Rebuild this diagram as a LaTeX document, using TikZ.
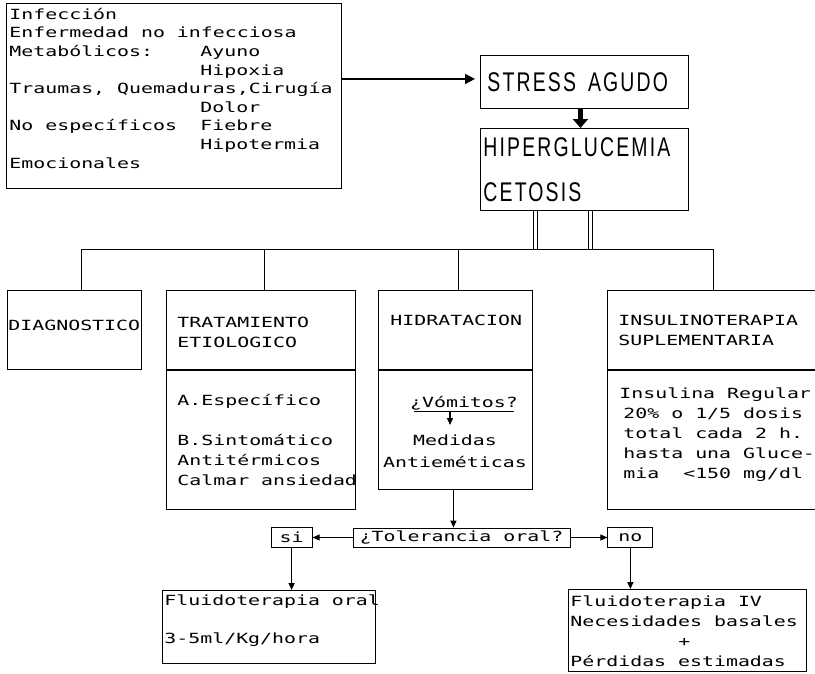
\documentclass[tikz,border=0pt]{standalone}
\usepackage{fontspec}
\setmainfont{Liberation Sans}
\newfontfamily\typefont[FakeStretch=1.42]{DejaVu Sans Mono}
\newfontfamily\headfont[FakeStretch=0.72,LetterSpace=8]{Liberation Sans}
\usetikzlibrary{arrows.meta,positioning}

\begin{document}
\begin{tikzpicture}[x=1pt, y=-1pt, >={Triangle[length=7pt,width=6pt]}, line width=0.9pt,
    font=\typefont\fontsize{14}{20}\selectfont]
    \tikzstyle{box}=[draw, rectangle, inner sep=0pt, anchor=north west]
    \tikzstyle{txt}=[inner sep=0pt, anchor=base west, align=left]
    \tikzstyle{big}=[font=\headfont\fontsize{27}{45}\selectfont]
    \useasboundingbox (0,0) rectangle (815,673);

    % causes and stress (multi-line text: base = last line)
    \node[box, minimum width=335pt, minimum height=185pt] (causas) at (6,3) {};
    \node[txt, font=\typefont\fontsize{14}{18.6}\selectfont] (causastxt) at ([shift={(3,165)}]causas.north west)
        {Infección\\Enfermedad no infecciosa\\\makebox[191pt][l]{Metabólicos:}Ayuno\\\hspace*{191pt}Hipoxia\\
         Traumas, Quemaduras,Cirugía\\\hspace*{191pt}Dolor\\\makebox[191pt][l]{No específicos}Fiebre\\
         \hspace*{191pt}Hipotermia\\Emocionales};
    \node[box, big, minimum width=208pt, minimum height=53pt, text width=194pt, inner xsep=7pt] (stress) at (480,55) {STRESS\hspace{12pt}AGUDO};
    \node[box, big, minimum width=208pt, minimum height=82pt, text width=202pt, inner xsep=3pt, align=left] (hiper) at (480,128) {HIPERGLUCEMIA\\CETOSIS};

    \draw[->, line width=1.6pt, >={Triangle[length=10pt,width=10pt]}, shorten >=5pt] ([yshift=3pt]causas.east |- stress.west) -- ([yshift=3pt]stress.west);
    \draw[-{Triangle[length=9pt,width=15pt]}, line width=5pt] ([xshift=-4pt]stress.south) -- ([xshift=-4pt]hiper.north);

    % branches
    \coordinate (bus) at (0,249);
    \node[box, minimum width=134pt, minimum height=79pt] (diag) at (7,290) {};
    \node[box, minimum width=189pt, minimum height=79pt] (trat) at (166,290) {};
    \node[box, minimum width=189pt, minimum height=139pt, below=0pt of trat] (tratb) {};
    \node[box, minimum width=154pt, minimum height=79pt] (hidr) at (378,290) {};
    \node[box, minimum width=154pt, minimum height=119pt, below=0pt of hidr] (hidrb) {};
    \node[box, minimum width=223pt, minimum height=79pt] (insul) at (607,290) {};
    \node[box, minimum width=223pt, minimum height=139pt, below=0pt of insul] (insulb) {};

    \draw[double, double distance=3pt, line width=0.8pt] ([xshift=-49pt]hiper.south) -- ([xshift=-49pt]hiper.south |- bus);
    \draw[double, double distance=3pt, line width=0.8pt] ([xshift=6pt]hiper.south) -- ([xshift=6pt]hiper.south |- bus);
    \draw ([xshift=7pt]diag.north) -- ([xshift=7pt]diag.north |- bus) -- ([xshift=-6pt]insul.north |- bus) -- ([xshift=-6pt]insul.north);
    \draw ([xshift=3pt]trat.north) -- ([xshift=3pt]trat.north |- bus);
    \draw ([xshift=3pt]hidr.north) -- ([xshift=3pt]hidr.north |- bus);

    \node[txt] (diagtxt) at ([shift={(1,40)}]diag.north west) {DIAGNOSTICO};
    \node[txt] (trattxt) at ([shift={(11,57)}]trat.north west) {TRATAMIENTO\\ETIOLOGICO};
    \node[txt] (hidrtxt) at ([shift={(12,35)}]hidr.north west) {HIDRATACION};
    \node[txt] (insultxt) at ([shift={(11,55)}]insul.north west) {INSULINOTERAPIA\\SUPLEMENTARIA};
    \node[txt] (tratbtxt) at ([shift={(11,116)}]tratb.north west) {A.Específico\\[20pt]B.Sintomático\\Antitérmicos\\Calmar ansiedad};
    \node[txt] (insulbtxt) at ([shift={(12,109)}]insulb.north west)
        {Insulina Regular\\\hspace*{4pt}20\% o 1/5 dosis\\\hspace*{4pt}total cada 2 h.\\\hspace*{4pt}hasta una Gluce-\\\hspace*{4pt}mia\ \ <150 mg/dl};

    % vomitos
    \node[txt, anchor=base] (vom) at (464,407) {¿Vómitos?};
    \node[txt, anchor=base, align=center, font=\typefont\fontsize{14}{22}\selectfont] (med) at (455,467) {Medidas\\Antieméticas};
    \draw ([shift={(4pt,-4pt)}]vom.base west) -- ([shift={(-4pt,-4pt)}]vom.base east);
    \coordinate (vomarr) at (450,411);
    \coordinate (vomtip) at (450,425);
    \draw[->, line width=1.4pt] (vomarr) -- (vomtip);

    % tolerancia
    \node[draw, minimum width=217pt, minimum height=19pt, inner sep=0pt] (tol) at (461.5,537.5) {¿Tolerancia oral?};
    \node[draw, minimum width=41pt, minimum height=20pt, inner sep=0pt, left=40pt of tol] (si) {si};
    \node[draw, minimum width=45pt, minimum height=20pt, inner sep=0pt, right=37pt of tol] (no) {no};
    \draw[->, line width=1.5pt] ([xshift=-2pt]hidrb.south) -- ([xshift=-2pt]hidrb.south |- tol.north);
    \draw[->] (tol.west) -- (si.east);
    \draw[->] (tol.east) -- (no.west);

    \node[box, minimum width=213pt, minimum height=73pt] (oral) at (162,590) {};
    \node[box, minimum width=238pt, minimum height=82pt] (iv) at (568,589) {};
    \draw[->, line width=1.5pt] (si.south) -- (si.south |- oral.north);
    \draw[->, line width=1.5pt] (no.south) -- (no.south |- iv.north);
    \node[txt] (oraltxt) at ([shift={(2,53)}]oral.north west) {Fluidoterapia oral\\[18pt]3-5ml/Kg/hora};
    \node[txt, font=\typefont\fontsize{14}{19.7}\selectfont] (ivtxt) at ([shift={(2,77)}]iv.north west)
        {Fluidoterapia IV\\Necesidades basales\\\hspace*{108pt}+\\Pérdidas estimadas};
\end{tikzpicture}
\end{document}
